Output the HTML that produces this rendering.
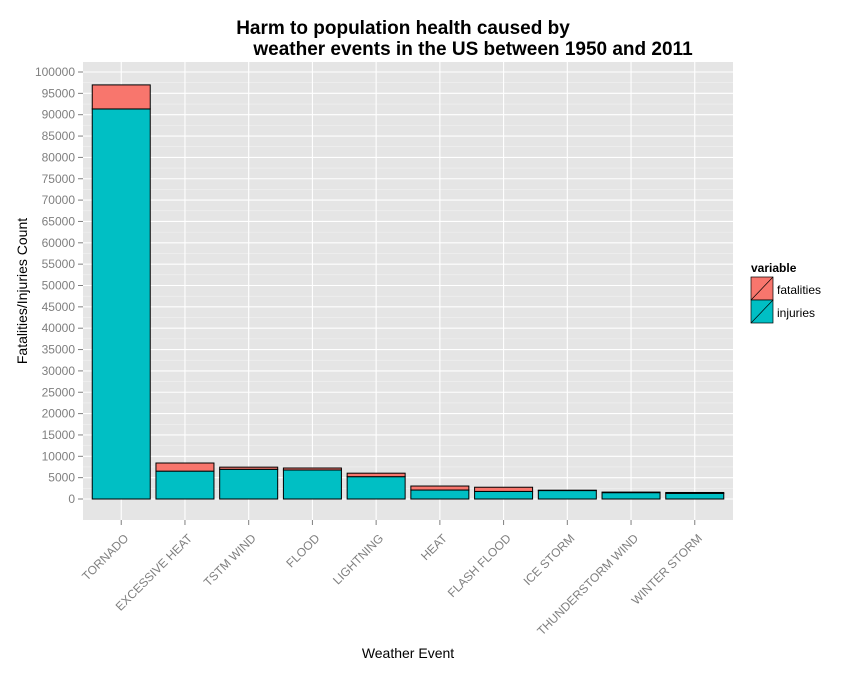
<!DOCTYPE html>
<html><head><meta charset="utf-8"><style>
body{margin:0;background:#fff;}
svg text{font-family:"Liberation Sans",Arial,sans-serif;}
</style></head><body>
<svg id="chart" width="864" height="672" xmlns="http://www.w3.org/2000/svg">
<rect width="864" height="672" fill="#fff"/>
<text x="403" y="34" font-size="19" font-weight="bold" text-anchor="middle">Harm to population health caused by</text>
<text x="473" y="55" font-size="19" font-weight="bold" text-anchor="middle">weather events in the US between 1950 and 2011</text>
<rect x="83" y="62" width="650" height="458" fill="#E5E5E5"/>
<g id="grid"></g>
<g id="bars"></g>
<g id="yaxis"></g>
<g id="xaxis"></g>
<text transform="translate(27,291) rotate(-90)" font-size="14" text-anchor="middle">Fatalities/Injuries Count</text>
<text x="408" y="658" font-size="14" text-anchor="middle">Weather Event</text>
<g>
<text x="751" y="272" font-size="12" font-weight="bold">variable</text>
<g>
<rect x="751" y="277" width="22" height="23" fill="#F8766D" stroke="#000" stroke-width="0.7"/>
<line x1="751" y1="300" x2="773" y2="277" stroke="#000" stroke-width="0.7"/>
<text x="777" y="294" font-size="12">fatalities</text></g>
<g>
<rect x="751" y="300" width="22" height="23" fill="#00BFC4" stroke="#000" stroke-width="0.7"/>
<line x1="751" y1="323" x2="773" y2="300" stroke="#000" stroke-width="0.7"/>
<text x="777" y="317" font-size="12">injuries</text></g>
</g>
</svg>
<script>
const categories=["TORNADO","EXCESSIVE HEAT","TSTM WIND","FLOOD","LIGHTNING","HEAT","FLASH FLOOD","ICE STORM","THUNDERSTORM WIND","WINTER STORM"];
const injuries=[91346,6525,6957,6789,5230,2100,1777,1975,1488,1321];
const fatalities=[5633,1903,504,470,816,937,978,89,133,206];
const yTicks=[0,5000,10000,15000,20000,25000,30000,35000,40000,45000,50000,55000,60000,65000,70000,75000,80000,85000,90000,95000,100000];
const NS="http://www.w3.org/2000/svg";
const y=v=>499-v*427/100000;
const unit=650/10.2;
const x=i=>83+(i+0.6)*unit;
const bw=58;
function mk(t,a,p){const e=document.createElementNS(NS,t);for(const k in a)e.setAttribute(k,a[k]);p.appendChild(e);return e;}
const grid=document.getElementById('grid'),bars=document.getElementById('bars'),ya=document.getElementById('yaxis'),xa=document.getElementById('xaxis');
yTicks.forEach((v,i)=>{
  if(i>0){const m=mk('line',{x1:83,x2:733,y1:y(v-2500),y2:y(v-2500),stroke:'#F2F2F2','stroke-width':0.6},grid);
  
  }
  const g=mk('line',{x1:83,x2:733,y1:y(v),y2:y(v),stroke:'#fff','stroke-width':1.1},grid);
  
  
  mk('line',{x1:78,x2:83,y1:y(v),y2:y(v),stroke:'#7f7f7f'},ya);
  const t=mk('text',{x:75,y:y(v)+4,'font-size':12,fill:'#7f7f7f','text-anchor':'end'},ya);
  t.textContent=v;
  
  
});
categories.forEach((c,i)=>{
  const cx=x(i);
  mk('line',{x1:cx,x2:cx,y1:62,y2:520,stroke:'#fff','stroke-width':1.1},grid);
  const r1=mk('rect',{x:cx-bw/2,y:y(injuries[i]),width:bw,height:y(0)-y(injuries[i]),fill:'#00BFC4',stroke:'#000','stroke-width':1},bars);
  
  
  const top=injuries[i]+fatalities[i];
  const r2=mk('rect',{x:cx-bw/2,y:y(top),width:bw,height:y(injuries[i])-y(top),fill:'#F8766D',stroke:'#000','stroke-width':1},bars);
  
  
  mk('line',{x1:cx,x2:cx,y1:520,y2:525,stroke:'#7f7f7f'},xa);
  const t=mk('text',{transform:`translate(${cx+8},${539}) rotate(-45)`,'font-size':12,fill:'#7f7f7f','text-anchor':'end'},xa);
  t.textContent=c;
  
  
});
</script>
</body></html>
